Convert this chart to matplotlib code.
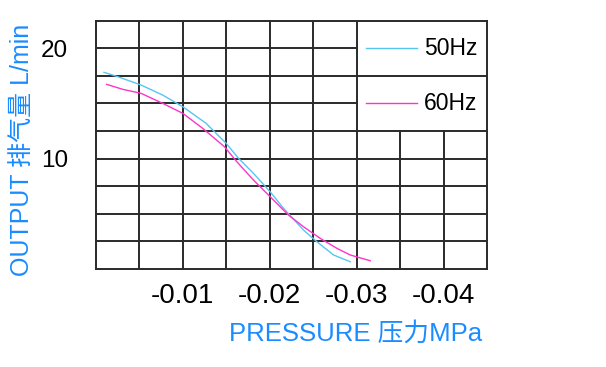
import matplotlib
matplotlib.use("Agg")
import matplotlib.pyplot as plt

# pressure magnitude (MPa, shown as negative), output (L/min)
p_50 = [0.00092, 0.00253, 0.00518, 0.00768, 0.0100, 0.01267, 0.01498, 0.0164,
        0.01812, 0.02004, 0.02158, 0.02388, 0.02542, 0.02734, 0.02926]
q_50 = [17.82, 17.42, 16.67, 15.76, 14.70, 13.20, 11.39, 10.03,
        8.67, 7.00, 5.50, 3.53, 2.47, 1.27, 0.66]

p_60 = [0.00123, 0.00308, 0.00518, 0.00768, 0.0100, 0.01229, 0.01478, 0.01621,
        0.01812, 0.02004, 0.02215, 0.02388, 0.0258, 0.02773, 0.02926, 0.03156]
q_60 = [16.73, 16.28, 15.92, 15.01, 14.10, 12.74, 11.08, 9.72,
        8.06, 6.55, 4.89, 3.83, 2.78, 1.87, 1.27, 0.75]

x_ticks = [0.01, 0.02, 0.03, 0.04]
x_tick_labels = ["-0.01", "-0.02", "-0.03", "-0.04"]
y_ticks = [10, 20]
y_tick_labels = ["10", "20"]
series_labels = ["50Hz", "60Hz"]

fonts = ["Liberation Sans", "Noto Sans CJK SC", "DejaVu Sans"]
plt.rcParams["font.family"] = fonts

blue = "#55c6f2"
pink = "#ff33cc"
label_blue = "#1a8cff"
grid_c = "#2a2a2a"

fig = plt.figure(figsize=(6.06, 3.67), dpi=100)
ax = fig.add_axes([96 / 606, 1 - 269 / 367, (487 - 96) / 606, (269 - 20.7) / 367])

xmax, ymax = 0.045, 22.5
ax.set_xlim(0, xmax)
ax.set_ylim(0, ymax)

# grid, with the legend block (x 0.03..0.045, y 12.5..22.5) left open
for i in range(1, 9):
    x = i * 0.005
    top = 12.5 if x > 0.031 else ymax
    ax.plot([x, x], [0, top], color=grid_c, lw=1.4, zorder=1)
for j in range(1, 9):
    y = j * 2.5
    right = 0.03 if (y > 12.6 and abs(y - 17.5) > 0.1) else xmax
    ax.plot([0, right], [y, y], color=grid_c, lw=1.4, zorder=1)

for s in ax.spines.values():
    s.set_color(grid_c)
    s.set_linewidth(1.4)

ax.plot(p_50, q_50, color=blue, lw=1.0, zorder=3)
ax.plot(p_60, q_60, color=pink, lw=1.0, zorder=3)

# legend drawn inside the open block
for yv, col, lab in zip([20, 15], [blue, pink], series_labels):
    ax.plot([0.0311, 0.0369], [yv, yv], color=col, lw=1.0, zorder=3)
    ax.text(0.03775, yv, lab, fontsize=16.5, va="center", ha="left", color="black")

ax.set_xticks(x_ticks)
ax.set_xticklabels(x_tick_labels, fontsize=20)
ax.set_yticks(y_ticks)
ax.set_yticklabels(y_tick_labels, fontsize=17.5)
ax.tick_params(axis="x", length=0, pad=10)
ax.tick_params(axis="y", length=0, pad=20)

fig.text(356 / 606, 1 - 334 / 367, "PRESSURE 压力MPa", fontsize=18.5,
         color=label_blue, ha="center", va="center")
fig.text(22.5 / 606, 1 - 150 / 367, "OUTPUT 排气量 L/min", fontsize=18,
         color=label_blue, ha="center", va="center", rotation=90)

fig.savefig("out.png", dpi=100)
